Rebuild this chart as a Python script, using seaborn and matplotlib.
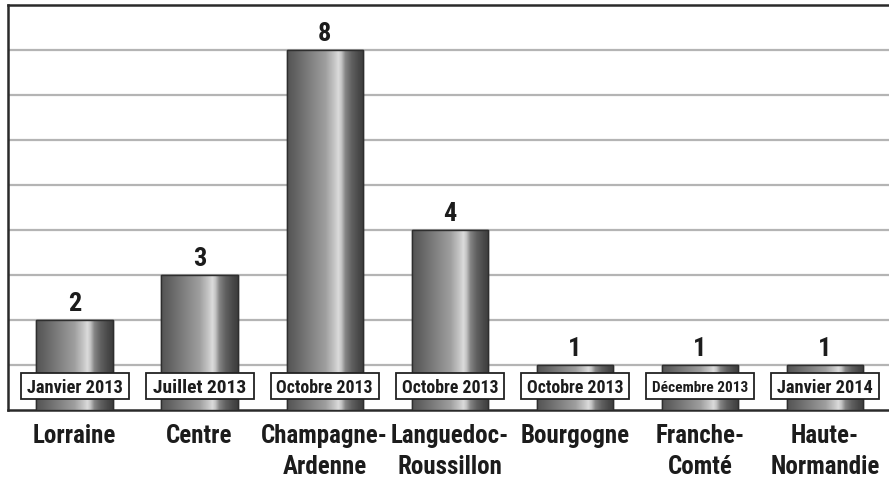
import numpy as np
import pandas as pd
import matplotlib
matplotlib.use("Agg")
import matplotlib.pyplot as plt
from matplotlib import font_manager
from matplotlib.patches import Rectangle
import seaborn as sns

regions = ["Lorraine", "Centre", "Champagne-\nArdenne", "Languedoc-\nRoussillon",
           "Bourgogne", "Franche-\nComté", "Haute-\nNormandie"]
counts = [2, 3, 8, 4, 1, 1, 1]
dates = ["Janvier 2013", "Juillet 2013", "Octobre 2013", "Octobre 2013",
         "Octobre 2013", "Décembre 2013", "Janvier 2014"]

df = pd.DataFrame({"region": regions, "count": counts, "date": dates})

sns.set_theme(style="white")
bold_faces = {f.name for f in font_manager.fontManager.ttflist
              if f.weight in (700, "bold") and f.style == "normal"}
family = next(f for f in ["Roboto Condensed", "Barlow Semi Condensed", "Asap Condensed",
                          "Fira Sans Condensed", "Liberation Sans"] if f in bold_faces)
plt.rcParams["font.family"] = [family, "DejaVu Sans"]
plt.rcParams["font.weight"] = "bold"

ink = "#1c1c1c"
fig = plt.figure(figsize=(8.89, 4.78), dpi=100)
ax = fig.add_axes([8 / 889, 68 / 478, 881 / 889, 405 / 478])

sns.barplot(data=df, x="region", y="count", color="#777777", width=0.61,
            edgecolor="#2e2e2e", linewidth=1.0, ax=ax, zorder=3)

ax.set_xlim(-0.532, 6.512)
ax.set_ylim(0, 9)
ax.set_yticks(range(1, 9))
ax.yaxis.grid(True, color="#b4b4b4", linewidth=1.6, zorder=0)
ax.set_axisbelow(True)
ax.tick_params(axis="y", left=False, labelleft=False)
ax.tick_params(axis="x", bottom=False, pad=4, labelsize=18, labelcolor=ink)
for lbl in ax.get_xticklabels():
    lbl.set_fontweight("bold")
    lbl.set_linespacing(1.35)
ax.set_xlabel("")
ax.set_ylabel("")
for side in ("left", "top", "bottom"):
    ax.spines[side].set_color("#2a2a2a")
    ax.spines[side].set_linewidth(1.8)
ax.spines["right"].set_visible(False)

# cylindrical shading across each bar
stops = np.array([0.0, 0.08, 0.3, 0.5, 0.62, 0.67, 0.71, 0.76, 0.84, 0.93, 1.0])
tones = np.array([0.33, 0.37, 0.50, 0.62, 0.78, 0.86, 0.76, 0.52, 0.38, 0.29, 0.24])
xs = np.linspace(0, 1, 256)
grad = np.interp(xs, stops, tones)[None, :]
for patch in list(ax.patches):
    x0, y0 = patch.get_x(), patch.get_y()
    w, h = patch.get_width(), patch.get_height()
    im = ax.imshow(grad, cmap="gray", vmin=0, vmax=1, aspect="auto",
                   extent=(x0, x0 + w, y0, y0 + h), zorder=3.5,
                   interpolation="bilinear")
    im.set_clip_path(patch)
    outline = Rectangle((x0, y0), w, h, fill=False, edgecolor="#2e2e2e",
                        linewidth=1.0, zorder=3.6)
    ax.add_patch(outline)
ax.set_xlim(-0.532, 6.512)
ax.set_ylim(0, 9)

# value labels above bars
for i, v in enumerate(counts):
    ax.annotate(str(v), (i, v), xytext=(0, 3), textcoords="offset points",
                ha="center", va="bottom", fontsize=19, fontweight="bold",
                color=ink, zorder=5)

# date tags near the bottom of each bar
fig.canvas.draw()
renderer = fig.canvas.get_renderer()
box_w, box_h, box_y = 0.864, 0.578, 0.244
px_per_unit = ax.transData.transform((1, 0))[0] - ax.transData.transform((0, 0))[0]
for i, d in enumerate(dates):
    ax.add_patch(Rectangle((i - box_w / 2, box_y), box_w, box_h, facecolor="white",
                           edgecolor="#222222", linewidth=1.3, zorder=6))
    t = ax.text(i, box_y + box_h / 2, d, ha="center", va="center_baseline",
                fontsize=14, fontweight="bold", color=ink, zorder=7)
    tw = t.get_window_extent(renderer).width
    limit = box_w * px_per_unit - 12
    if tw > limit:
        t.set_fontsize(14 * limit / tw)

fig.savefig("out.png", dpi=100)
